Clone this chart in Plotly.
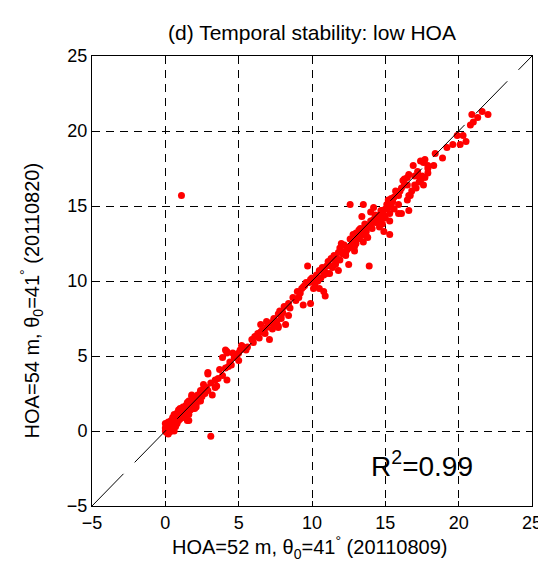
import plotly.graph_objects as go

# Scatter values (HOA=52 m vs HOA=54 m retrievals)
x_vals = [
    0.0, 0.1, 0.2, 0.0, 0.3, 0.1, 0.4, 0.5, 0.3, 0.6,
    0.2, 0.7, 0.5, 0.8, 0.9, 0.6, 1.0, 1.1, 0.9, 1.2,
    1.3, 1.5, 1.4, 1.6, 1.7, 1.5, 1.8, 1.9, 2.0, 1.8,
    2.1, 2.2, 2.3, 2.4, 2.5, 0.4, 0.0, 0.8, 1.2, 2.0,
    1.0, 0.2, 1.6, 2.6, 2.7, 0.3, 0.7, 1.3, 0.6, 1.6,
    1.5, 1.6, 1.9, 2.4, 2.5, 1.8, 0.4, 0.6, 1.1, 1.3,
    1.0, 2.1, 2.1, 2.3, 2.8, 2.4, 2.7, 3.1, 1.1, 2.9,
    3.2, 3.4, 2.6, 3.1, 3.5, 2.9, 3.4, 3.6, 3.9, 4.2,
    3.7, 4.1, 4.3, 4.4, 4.7, 3.9, 4.1, 4.2, 4.6, 4.9,
    5.1, 5.3, 5.6, 5.9, 6.1, 6.3, 6.6, 6.9, 7.1, 6.7,
    7.2, 7.5, 7.7, 7.9, 7.6, 2.9, 5.2, 6.5, 7.0, 7.4,
    7.9, 7.7, 6.5, 6.9, 7.4, 7.7, 8.2, 8.4, 8.5, 8.9,
    9.1, 9.4, 9.2, 9.5, 9.8, 9.9, 10.1, 10.2, 10.5, 10.6,
    10.9, 11.0, 10.8, 11.2, 11.4, 11.6, 11.8, 11.9, 11.9, 12.3,
    12.5, 12.5, 12.7, 12.9, 13.2, 13.4, 13.5, 13.7, 13.8, 13.9,
    14.0, 13.6, 13.2, 12.8, 12.0, 9.7, 13.9, 12.6, 13.5, 14.0,
    13.4, 4.2, 5.0, 10.0, 10.3, 10.4, 10.7, 10.9, 11.1, 11.3,
    11.5, 11.7, 12.0, 12.2, 12.4, 12.6, 12.8, 13.0, 13.1, 13.3,
    13.5, 13.8, 14.0, 14.2, 14.4, 14.6, 14.8, 14.5, 14.1, 13.7,
    12.9, 12.3, 11.6, 10.8, 10.2, 9.6, 9.3, 9.0, 8.7, 8.4,
    8.1, 7.8, 14.2, 14.7, 15.1, 15.3, 15.5, 15.9, 16.1, 16.2,
    16.5, 16.6, 17.0, 17.2, 17.4, 17.7, 17.9, 15.9, 16.7, 16.5,
    16.9, 17.7, 17.4, 17.9, 15.4, 19.6, 20.1, 20.5, 19.9, 20.3,
    19.2, 18.9, 18.4, 18.3, 17.9, 17.6, 17.5, 17.2, 17.3, 17.6,
    17.0, 17.1, 16.8, 16.6, 16.0, 16.3, 16.5, 16.3, 15.7, 15.6,
    15.4, 15.2, 15.9, 16.1, 16.6, 14.9, 15.3, 14.8, 14.9, 15.3,
    20.9, 21.3, 21.6, 22.0, 20.8, 21.0, 15.0, 14.6, 15.6, 14.3,
    0.1, 0.2, 0.5, 0.4, 0.8, 1.2, 1.4, 1.7, 2.2, 2.6, 0.05, 0.15, 0.9, 1.1, 2.0,
    9.4, 9.9, 10.5, 11.0, 11.3, 11.8, 12.1, 12.6, 13.0, 13.3, 13.6, 14.3, 14.7, 15.0, 15.2,
    4.5, 5.0, 5.5, 6.0, 6.4, 6.8, 7.3, 8.0,
]
y_vals = [
    0.0, -0.1, 0.1, 0.2, 0.3, 0.4, 0.2, 0.5, 0.6, 0.4,
    -0.2, 0.7, 0.9, 0.5, 1.0, 1.1, 0.8, 1.2, 1.4, 1.0,
    1.5, 1.3, 1.7, 1.6, 1.4, 1.9, 1.9, 1.6, 2.1, 2.3,
    1.8, 2.4, 2.0, 2.6, 2.3, 0.0, 0.5, 1.2, 1.6, 1.5,
    1.5, 0.6, 2.0, 2.5, 2.9, -0.05, 0.3, 0.9, 0.0, 0.7,
    0.7, 1.1, 1.5, 2.0, 2.4, 2.4, 0.1, 0.5, 1.1, 1.3,
    1.2, 1.6, 2.1, 2.3, 2.9, 2.7, 2.5, -0.35, 15.7, 2.7,
    2.4, 2.9, 3.1, 3.2, 3.0, 3.9, 3.4, 3.5, 3.7, 3.4,
    4.1, 4.2, 4.3, 4.6, 4.9, 4.9, 5.4, 5.2, 5.2, 5.1,
    5.4, 5.6, 5.6, 6.1, 6.3, 6.5, 6.7, 6.9, 6.1, 6.6,
    7.2, 7.0, 6.9, 7.5, 7.3, 3.8, 5.7, 6.6, 7.2, 7.4,
    7.7, 7.0, 7.1, 7.3, 7.5, 7.8, 7.1, 7.7, 8.2, 8.7,
    8.9, 8.4, 9.2, 9.7, 9.9, 8.5, 9.5, 10.1, 9.5, 10.2,
    9.0, 10.5, 9.3, 10.5, 10.9, 11.2, 10.7, 11.4, 12.2, 11.7,
    11.1, 12.2, 12.4, 12.0, 12.9, 13.1, 12.6, 13.3, 12.9, 13.7,
    14.0, 13.8, 13.4, 13.1, 12.5, 11.0, 11.0, 15.1, 15.1, 14.6,
    14.3, 5.3, 4.7, 10.2, 10.4, 10.0, 10.9, 10.6, 11.3, 11.0,
    11.7, 11.5, 12.0, 12.4, 12.1, 12.8, 12.6, 13.2, 12.8, 13.5,
    13.3, 13.6, 13.8, 14.1, 14.3, 14.4, 14.7, 13.9, 13.5, 13.0,
    12.3, 11.9, 11.1, 10.4, 9.8, 9.9, 9.5, 9.3, 8.9, 8.5,
    8.3, 8.0, 14.9, 14.7, 15.1, 14.5, 15.3, 15.7, 16.2, 16.7,
    16.4, 17.1, 17.0, 17.3, 16.7, 16.9, 17.2, 14.5, 15.7, 15.4,
    17.7, 18.1, 18.0, 17.7, 15.5, 19.1, 19.1, 19.3, 19.7, 19.7,
    18.9, 18.2, 18.5, 17.7, 17.5, 17.9, 17.0, 17.0, 16.6, 16.4,
    16.4, 16.2, 16.0, 15.7, 16.0, 16.4, 16.9, 16.8, 16.0, 15.6,
    15.1, 14.9, 15.1, 14.5, 14.7, 14.4, 14.0, 13.8, 13.3, 13.1,
    21.1, 20.9, 21.3, 21.1, 20.4, 20.6, 14.2, 13.6, 14.8, 13.9,
    0.1, 0.3, 0.2, 0.7, 0.8, 1.3, 1.2, 1.8, 2.1, 2.8, -0.05, 0.25, 0.7, 0.9, 1.9,
    9.6, 10.1, 10.7, 11.0, 11.5, 11.9, 11.8, 12.3, 12.5, 13.0, 13.4, 14.4, 14.2, 14.8, 15.4,
    4.4, 5.2, 5.4, 5.9, 6.2, 6.5, 6.8, 7.9,
]

axis_range = [-5, 25]
tick_vals = [-5, 0, 5, 10, 15, 20, 25]
one_to_one = [-5, 25]

title_text = "(d) Temporal stability: low HOA"
x_label = "HOA=52 m, θ<sub>0</sub>=41<sup>°</sup> (20110809)"
y_label = "HOA=54 m, θ<sub>0</sub>=41<sup>°</sup> (20110820)"
r2_text = "R<sup>2</sup>=0.99"

FONT = "Liberation Sans, Arial, sans-serif"

fig = go.Figure()
fig.add_trace(go.Scatter(
    x=x_vals, y=y_vals, mode="markers",
    marker=dict(color="#ff0000", size=7, line=dict(width=0)),
    showlegend=False, hoverinfo="skip",
))
fig.add_trace(go.Scatter(
    x=one_to_one, y=one_to_one, mode="lines",
    line=dict(color="black", width=1, dash="45px,16px"),
    showlegend=False, hoverinfo="skip",
))

axis_common = dict(
    range=axis_range, tickvals=tick_vals, ticks="inside", ticklen=5,
    tickcolor="black", showline=True, linecolor="black", linewidth=1,
    mirror="ticks", showgrid=True, gridcolor="black", gridwidth=1,
    griddash="8px,6px", zeroline=False,
    tickfont=dict(family=FONT, size=18, color="black"),
)
fig.update_xaxes(**axis_common)
fig.update_yaxes(**axis_common)

fig.update_layout(
    width=546, height=563,
    margin=dict(l=84, r=12, t=48, b=65),
    paper_bgcolor="white", plot_bgcolor="white",
    font=dict(family=FONT, color="black"),
    title=dict(text=title_text, x=0.5, xref="paper", xanchor="center",
               y=1 - 25 / 563, yref="container", yanchor="middle",
               font=dict(family=FONT, size=21, color="black")),
    annotations=[
        dict(text=x_label, xref="paper", yref="paper", x=(306 - 84) / 450,
             y=-(539 - 498) / 450, xanchor="center", yanchor="middle",
             showarrow=False, font=dict(family=FONT, size=20, color="black")),
        dict(text=y_label, xref="paper", yref="paper", x=-(84 - 22) / 450,
             y=(498 - 293) / 450, xanchor="center", yanchor="middle",
             textangle=-90, showarrow=False,
             font=dict(family=FONT, size=20, color="black")),
        dict(text=r2_text, xref="paper", yref="paper", x=(367 - 84) / 450,
             y=(498 - 456) / 450, xanchor="left", yanchor="middle",
             showarrow=False, font=dict(family=FONT, size=28, color="black")),
    ],
)

fig.write_html("out.html")
